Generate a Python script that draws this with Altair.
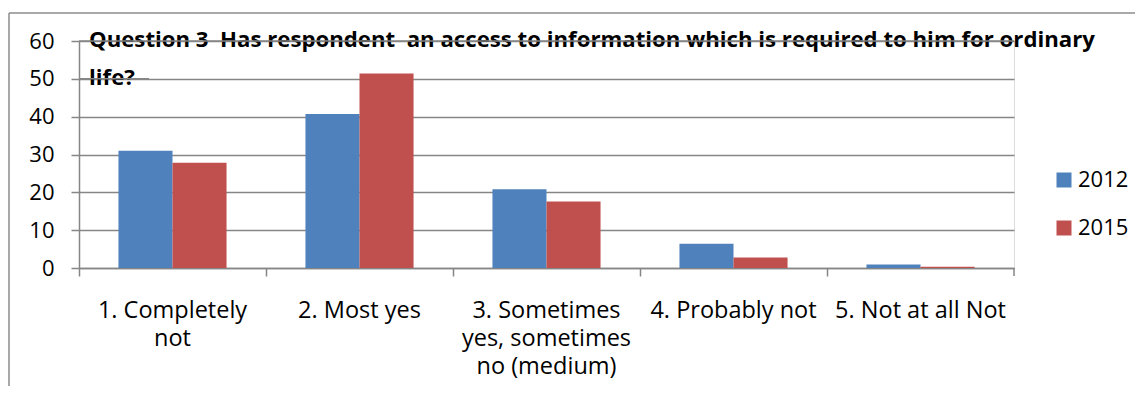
import altair as alt
import pandas as pd

categories = ["1. Completely not", "2. Most yes", "3. Sometimes yes, sometimes no (medium)",
              "4. Probably not", "5. Not at all Not"]
tick_labels = ["1. Completely|not", "2. Most yes", "3. Sometimes|yes, sometimes|no (medium)",
               "4. Probably not", "5. Not at all Not"]
years = ["2012", "2015"]
values_2012 = [31.0, 40.7, 20.8, 6.4, 0.9]
values_2015 = [27.8, 51.4, 17.6, 2.8, 0.3]
y_ticks = [0, 10, 20, 30, 40, 50, 60]
title_lines = ["Question 3\u00a0 Has respondent\u00a0 an access to information which is required to him for ordinary",
               "life?"]

rows = []
for c, lab, v1, v2 in zip(categories, tick_labels, values_2012, values_2015):
    rows.append({"cat": lab, "year": "2012", "value": v1})
    rows.append({"cat": lab, "year": "2015", "value": v2})
df = pd.DataFrame(rows)

FONT = "Open Sans"
GRID = "#868686"
W, H = 935, 227

bars = alt.Chart(df).mark_bar().encode(
    x=alt.X("cat:N", sort=tick_labels, title=None,
            scale=alt.Scale(paddingInner=0, paddingOuter=0),
            axis=alt.Axis(labelExpr="split(datum.label, '|')", labelAngle=0,
                          labelFont=FONT, labelFontSize=23.5, labelColor="black",
                          labelPadding=22, labelLineHeight=28, labelBaseline="top",
                          bandPosition=0, tickSize=8, tickColor=GRID, domainColor=GRID,
                          tickWidth=1.5, domainWidth=1.5, grid=False, labelLimit=300,
                          labelOverlap=False)),
    xOffset=alt.XOffset("year:N", sort=years,
                        scale=alt.Scale(paddingInner=0, paddingOuter=0.73)),
    y=alt.Y("value:Q", title=None,
            scale=alt.Scale(domain=[0, 60], nice=False),
            axis=alt.Axis(values=y_ticks, tickCount=7, labelFont=FONT, labelFontSize=22,
                          labelColor="black", labelPadding=17, tickSize=8, tickColor=GRID,
                          domainColor=GRID, gridColor=GRID, tickWidth=1.5, domainWidth=1.5,
                          gridWidth=1.5, labelOverlap=False, labelSeparation=0,
                          labelBaseline="middle")),
    color=alt.Color("year:N", sort=years,
                    scale=alt.Scale(domain=years, range=["#4F81BD", "#C0504D"]),
                    legend=alt.Legend(title=None, orient="none", legendX=974, legendY=128,
                                      symbolType="square", symbolSize=225, symbolStrokeWidth=0,
                                      labelFont=FONT, labelFontSize=22, labelOffset=3,
                                      rowPadding=26, labelColor="black")),
)

one = pd.DataFrame({"a": [0]})
end_tick = alt.Chart(one).mark_rule(color=GRID, strokeWidth=1.5).encode(
    x=alt.value(W), y=alt.value(H), y2=alt.value(H + 8))
frame_left = alt.Chart(one).mark_rule(color="#8c8c8c", strokeWidth=1.5).encode(
    x=alt.value(-70), y=alt.value(-28), y2=alt.value(H + 140))
frame_top = alt.Chart(one).mark_rule(color="#8c8c8c", strokeWidth=1.5).encode(
    x=alt.value(-70), x2=alt.value(W + 140), y=alt.value(-28))
t1 = alt.Chart(one).mark_text(align="left", baseline="alphabetic", font=FONT, fontSize=22.2,
                              fontWeight="bold", color="black").encode(
    x=alt.value(10), y=alt.value(6), text=alt.value(title_lines[0]))
t2 = alt.Chart(one).mark_text(align="left", baseline="alphabetic", font=FONT, fontSize=22.2,
                              fontWeight="bold", color="black").encode(
    x=alt.value(10), y=alt.value(44), text=alt.value(title_lines[1]))
grid60 = alt.Chart(one).mark_rule(color=GRID, strokeWidth=1.5).encode(
    x=alt.value(0), x2=alt.value(W), y=alt.datum(60))
grid50 = alt.Chart(one).mark_rule(color=GRID, strokeWidth=1.5).encode(
    x=alt.value(0), x2=alt.value(70), y=alt.datum(50))

chart = alt.layer(frame_left, frame_top, bars, end_tick, t1, t2, grid60, grid50).properties(
    width=W, height=H,
    autosize=alt.AutoSizeParams(type="none"),
    padding={"left": 71, "top": 33, "right": 121, "bottom": 118},
).configure_view(stroke=None).configure(background="white").configure_axis(labelOverlap=False)

chart.save("out.html", embed_options={"renderer": "svg", "actions": False})
